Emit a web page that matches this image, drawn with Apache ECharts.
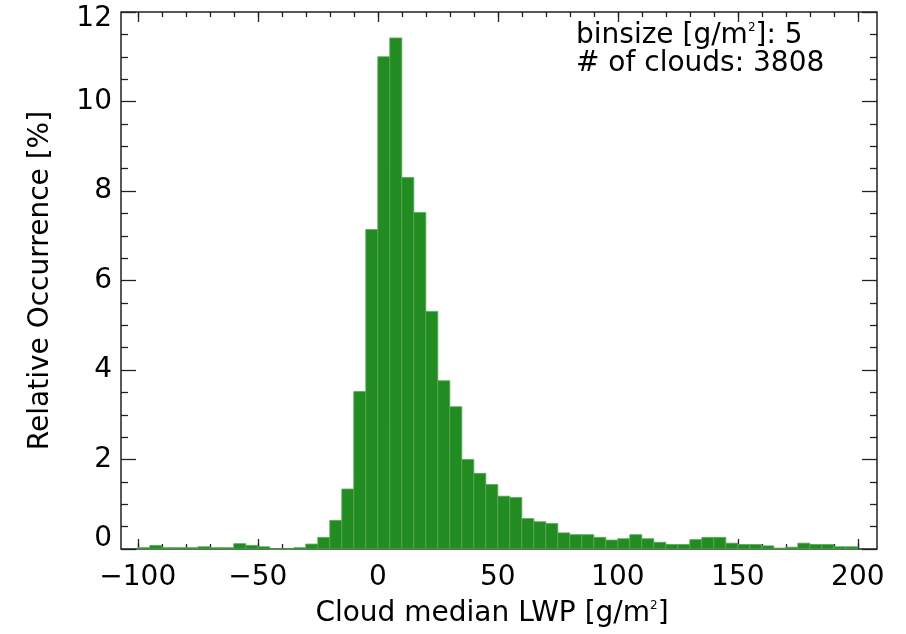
<!DOCTYPE html>
<html>
<head>
<meta charset="utf-8">
<title>Cloud median LWP histogram</title>
<script src="https://cdn.jsdelivr.net/npm/echarts@6/dist/echarts.min.js"></script>
<style>
  html, body { margin: 0; padding: 0; background: #ffffff; }
  #chart { width: 906px; height: 634px; }
</style>
</head>
<body>
<div id="chart"></div>
<script>
// Histogram of cloud median liquid water path, 5 g/m² bins from -100 to 200
const BIN_START = -100;
const BIN_SIZE = 5;
const N_CLOUDS = 3808;

// relative occurrence [%] per bin, left edge -100, -95, ..., 195
const occurrence = [
  0.03, 0.08, 0.03, 0.03, 0.03, 0.05, 0.03, 0.03, 0.12, 0.08,   // -100 .. -55
  0.05, 0.00, 0.00, 0.03, 0.11, 0.26, 0.64, 1.34, 3.52, 7.14,   // -50 .. -5
  11.00, 11.42, 8.30, 7.52, 5.31, 3.76, 3.18, 2.00, 1.69, 1.44, // 0 .. 45
  1.18, 1.15, 0.68, 0.61, 0.57, 0.36, 0.32, 0.32, 0.26, 0.20,   // 50 .. 95
  0.23, 0.32, 0.23, 0.15, 0.10, 0.10, 0.21, 0.26, 0.26, 0.13,   // 100 .. 145
  0.10, 0.10, 0.07, 0.02, 0.04, 0.13, 0.10, 0.10, 0.05, 0.05    // 150 .. 195
];

// axis ticks
const xMajorTicks = [-100, -50, 0, 50, 100, 150, 200];
const xMinorTicks = [-100, -90, -80, -70, -60, -50, -40, -30, -20, -10, 0, 10, 20, 30, 40, 50,
                     60, 70, 80, 90, 100, 110, 120, 130, 140, 150, 160, 170, 180, 190, 200];
const X_MIN = -107, X_MAX = 208;
const Y_MIN = 0, Y_MAX = 12, Y_STEP = 2;

const bins = occurrence.map((v, i) => [BIN_START + i * BIN_SIZE, BIN_START + (i + 1) * BIN_SIZE, v]);

const FONT = 'DejaVu Sans';
const INK = '#222222';
const tickLine = { color: INK, width: 1.3 };

function xAxisDef(position, ticks, len, withLabels) {
  const ax = {
    type: 'value', position: position, min: X_MIN, max: X_MAX,
    axisLine: { show: false, onZero: false },
    splitLine: { show: false },
    axisTick: { show: true, inside: true, length: len, customValues: ticks, lineStyle: tickLine },
    axisLabel: { show: false }
  };
  if (withLabels) {
    ax.axisLabel = {
      show: true, customValues: ticks, margin: 15,
      fontFamily: FONT, fontSize: 28, color: '#000',
      formatter: v => String(v).replace('-', '\u2212')
    };
    ax.name = 'Cloud median LWP [g/m{s|2}]';
    ax.nameLocation = 'middle';
    ax.nameGap = 51;
    ax.nameTextStyle = {
      fontFamily: FONT, fontSize: 28, color: '#000', padding: [0, 14, 0, 0],
      rich: { s: { fontFamily: FONT, fontSize: 12, verticalAlign: 'top', lineHeight: 12, color: '#000' } }
    };
  }
  return ax;
}

function yAxisDef(position, withLabels) {
  const ax = {
    type: 'value', position: position, min: Y_MIN, max: Y_MAX, interval: Y_STEP,
    axisLine: { show: false, onZero: false },
    splitLine: { show: false },
    axisTick: { show: true, inside: true, length: 15, lineStyle: tickLine },
    minorTick: { show: true, splitNumber: 4, length: 7, lineStyle: tickLine },
    axisLabel: { show: false }
  };
  if (withLabels) {
    ax.axisLabel = {
      show: true, margin: 9, fontFamily: FONT, fontSize: 28, color: '#000',
      formatter: v => v === Y_MIN ? '{lo|' + v + '}' : (v === Y_MAX ? '{hi|' + v + '}' : String(v)),
      rich: {
        lo: { fontFamily: FONT, fontSize: 28, color: '#000', padding: [0, 0, 20, 0] },
        hi: { fontFamily: FONT, fontSize: 28, color: '#000', padding: [13, 0, 0, 0] }
      }
    };
    ax.name = 'Relative Occurrence [%]';
    ax.nameLocation = 'middle';
    ax.nameGap = 66;
    ax.nameTextStyle = { fontFamily: FONT, fontSize: 28, color: '#000' };
  }
  return ax;
}

const chart = echarts.init(document.getElementById('chart'), null, { renderer: 'canvas' });

chart.setOption({
  animation: false,
  backgroundColor: '#ffffff',
  grid: {
    left: 121, right: 29, top: 12, bottom: 85,
    show: true, borderColor: INK, borderWidth: 1.5, backgroundColor: 'transparent'
  },
  xAxis: [
    xAxisDef('bottom', xMajorTicks, 10, true),
    xAxisDef('bottom', xMinorTicks, 5, false),
    xAxisDef('top', xMajorTicks, 10, false),
    xAxisDef('top', xMinorTicks, 5, false)
  ],
  yAxis: [
    yAxisDef('left', true),
    yAxisDef('right', false)
  ],
  series: [{
    type: 'custom',
    name: 'occurrence',
    xAxisIndex: 0,
    yAxisIndex: 0,
    data: bins,
    encode: { x: [0, 1], y: 2 },
    renderItem: function (params, api) {
      const top = api.coord([api.value(0), api.value(2)]);
      const base = api.coord([api.value(1), 0]);
      return {
        type: 'rect',
        shape: { x: top[0], y: top[1], width: base[0] - top[0], height: base[1] - top[1] },
        style: { fill: '#228B22', stroke: '#55a855', lineWidth: 0.8 }
      };
    },
    z: 1
  }],
  graphic: [
    {
      type: 'text', left: 576, top: 22, z: 10,
      style: {
        text: 'binsize [g/m{s|2}]: ' + BIN_SIZE,
        fontFamily: FONT, fontSize: 28, fill: '#000',
        rich: { s: { fontFamily: FONT, fontSize: 12, verticalAlign: 'top', lineHeight: 12, fill: '#000' } }
      }
    },
    {
      type: 'text', left: 576, top: 50, z: 10,
      style: { text: '# of clouds: ' + N_CLOUDS, fontFamily: FONT, fontSize: 28, fill: '#000' }
    }
  ]
});
</script>
</body>
</html>
